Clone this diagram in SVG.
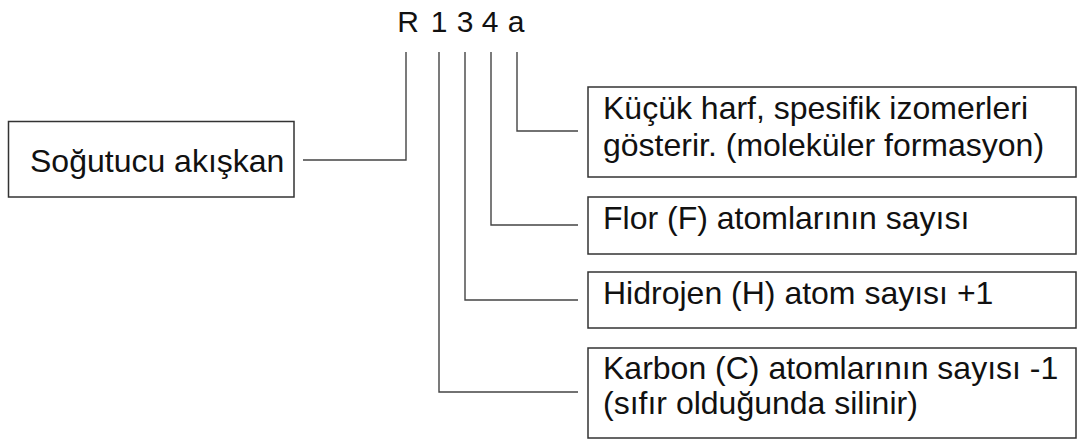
<svg xmlns="http://www.w3.org/2000/svg" width="1079" height="441" viewBox="0 0 1079 441">
<style>
.box{fill:#fff;stroke:#333;stroke-width:1.5}
.ln{fill:none;stroke:#444;stroke-width:1.4}
.t{font-family:"Liberation Sans",Arial,sans-serif;font-size:32px;fill:#111}
.code{font-family:"Liberation Sans",Arial,sans-serif;font-size:30px;fill:#111;text-anchor:middle}
</style>
<rect width="1079" height="441" fill="#fff"/>
<g id="code">
<text class="code" x="408" y="32">R</text>
<text class="code" x="439" y="32">1</text>
<text class="code" x="465" y="32">3</text>
<text class="code" x="490" y="32">4</text>
<text class="code" x="516" y="32">a</text>
</g>
<g id="connectors">
<polyline class="ln" points="303,160 406,160 406,52"/>
<polyline class="ln" points="517,52 517,131 578,131"/>
<polyline class="ln" points="491,52 491,225 578,225"/>
<polyline class="ln" points="465,52 465,300 578,300"/>
<polyline class="ln" points="439,52 439,392 578,392"/>
</g>
<g id="refrigerant">
<rect class="box" x="8.5" y="121.5" width="285.5" height="75.5"/>
<text class="t" x="30" y="172">Soğutucu akışkan</text>
</g>
<g id="isomer">
<rect class="box" x="588" y="87" width="488" height="90"/>
<text class="t" x="603" y="119">Küçük harf, spesifik izomerleri</text>
<text class="t" x="603" y="156">gösterir. (moleküler formasyon)</text>
</g>
<g id="fluorine">
<rect class="box" x="588" y="197" width="488" height="57"/>
<text class="t" x="603" y="229">Flor (F) atomlarının sayısı</text>
</g>
<g id="hydrogen">
<rect class="box" x="588" y="272" width="488" height="56"/>
<text class="t" x="603" y="304">Hidrojen (H) atom sayısı +1</text>
</g>
<g id="carbon">
<rect class="box" x="588" y="348" width="488" height="90"/>
<text class="t" x="603" y="379">Karbon (C) atomlarının sayısı -1</text>
<text class="t" x="603" y="414">(sıfır olduğunda silinir)</text>
</g>
</svg>
